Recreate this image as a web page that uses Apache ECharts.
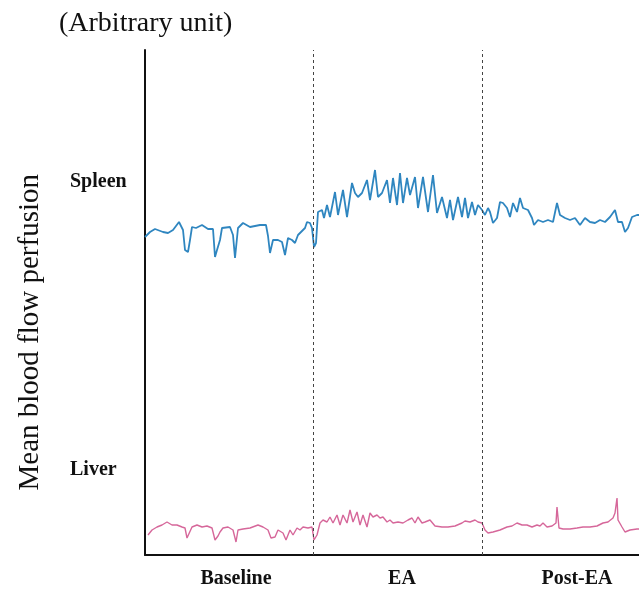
<!DOCTYPE html>
<html>
<head>
<meta charset="utf-8">
<script src="https://cdn.jsdelivr.net/npm/echarts@6/dist/echarts.min.js"></script>
<style>
  html, body { margin: 0; padding: 0; background: #fff; }
  #chart { width: 639px; height: 592px; }
</style>
</head>
<body>
<div id="chart"></div>
<script>
// time axis in arbitrary steps, perfusion in arbitrary units
const phaseNames = ['Baseline', 'EA', 'Post-EA'];
const phaseLabelPos = [91, 257, 432];
const phaseBounds = [168, 337];
const organNames = ['Spleen', 'Liver'];
const organLabelPos = [373, 85];

const spleenT = [0, 5, 10, 18, 23, 28, 34, 38, 40, 43, 45, 47, 51, 57, 63, 68, 70, 72, 75, 77, 85, 88, 90, 93, 98, 105, 110, 115, 121, 123, 125, 128, 133, 137, 140, 143, 147, 150, 153, 156, 160, 162, 165, 167, 169, 171, 173, 177, 179, 182, 185, 190, 193, 198, 202, 207, 210, 213, 217, 222, 225, 230, 233, 237, 242, 245, 248, 252, 255, 258, 262, 265, 270, 273, 278, 283, 288, 292, 297, 302, 305, 308, 313, 317, 320, 323, 327, 330, 333, 337, 340, 343, 345, 348, 352, 355, 358, 362, 365, 368, 372, 375, 378, 383, 387, 389, 393, 398, 403, 408, 412, 415, 420, 425, 430, 435, 440, 445, 450, 455, 460, 465, 470, 473, 477, 480, 483, 487, 492, 494];
const spleenV = [318, 323, 326, 323, 322, 325, 333, 325, 305, 303, 315, 328, 327, 330, 326, 326, 298, 305, 315, 327, 328, 320, 297, 327, 332, 328, 329, 330, 330, 319, 302, 315, 315, 313, 300, 317, 315, 312, 320, 323, 327, 333, 332, 327, 308, 312, 343, 345, 337, 350, 338, 363, 340, 365, 338, 372, 362, 358, 362, 375, 355, 385, 358, 362, 375, 352, 377, 350, 382, 352, 377, 360, 378, 347, 378, 343, 380, 342, 358, 337, 355, 335, 358, 338, 357, 337, 353, 340, 350, 345, 340, 347, 343, 332, 337, 353, 352, 347, 338, 352, 343, 357, 347, 345, 337, 330, 335, 333, 335, 333, 352, 340, 337, 335, 337, 330, 337, 333, 332, 335, 333, 338, 345, 333, 333, 323, 327, 338, 340, 340];

const liverT = [3, 7, 12, 17, 22, 27, 32, 37, 40, 42, 44, 47, 52, 57, 62, 67, 70, 73, 75, 78, 83, 88, 91, 93, 98, 105, 113, 118, 123, 126, 130, 133, 138, 141, 145, 148, 152, 155, 158, 163, 167, 169, 172, 175, 178, 182, 185, 188, 192, 195, 198, 202, 205, 208, 212, 215, 218, 222, 225, 228, 232, 235, 238, 242, 245, 248, 253, 258, 263, 267, 270, 273, 277, 280, 285, 290, 297, 303, 310, 317, 320, 325, 330, 333, 337, 340, 343, 348, 355, 362, 367, 372, 377, 382, 387, 392, 395, 398, 402, 407, 411, 412, 414, 418, 425, 432, 438, 445, 452, 458, 463, 468, 470, 472, 473, 477, 480, 485, 492, 494];
const liverV = [20, 25, 28, 30, 33, 30, 30, 28, 27, 17, 18, 28, 30, 28, 29, 27, 15, 19, 23, 27, 28, 25, 13, 25, 26, 27, 30, 28, 25, 17, 18, 25, 22, 15, 25, 20, 27, 25, 28, 27, 28, 15, 20, 32, 35, 33, 38, 32, 40, 30, 40, 32, 45, 33, 43, 30, 40, 28, 42, 38, 40, 37, 38, 33, 35, 32, 33, 32, 35, 37, 32, 38, 32, 33, 35, 29, 28, 28, 29, 32, 34, 33, 35, 33, 32, 25, 22, 23, 25, 28, 29, 32, 30, 30, 28, 30, 29, 32, 28, 29, 32, 48, 27, 26, 26, 27, 28, 28, 29, 32, 33, 37, 42, 57, 35, 28, 23, 25, 26, 26];

const zip = (t, v) => t.map((x, i) => [x, v[i]]);

const chart = echarts.init(document.getElementById('chart'));
chart.setOption({
  backgroundColor: '#fff',
  animation: false,
  title: {
    text: '(Arbitrary unit)',
    left: 54,
    top: 5,
    textStyle: { fontFamily: 'Liberation Serif', fontWeight: 'normal', fontSize: 28, color: '#111' }
  },
  graphic: [{
    type: 'text',
    left: 16,
    top: 174,
    rotation: Math.PI / 2,
    style: {
      text: 'Mean blood flow perfusion',
      font: '29px "Liberation Serif"',
      fill: '#111'
    }
  }],
  grid: { left: 145, right: 0, top: 50, bottom: 37 },
  xAxis: {
    type: 'value',
    min: 0,
    max: 494,
    splitLine: { show: false },
    axisLine: { show: true, lineStyle: { color: '#111', width: 2 } },
    axisTick: { show: false },
    axisLabel: {
      customValues: phaseLabelPos,
      margin: 14,
      fontFamily: 'Liberation Serif',
      fontWeight: 'bold',
      fontSize: 20,
      color: '#111',
      formatter: (v) => phaseNames[phaseLabelPos.indexOf(v)]
    }
  },
  yAxis: {
    type: 'value',
    min: 0,
    max: 505,
    splitLine: { show: false },
    axisLine: { show: true, lineStyle: { color: '#111', width: 2 } },
    axisTick: { show: false },
    axisLabel: {
      customValues: organLabelPos,
      align: 'left',
      margin: 75,
      fontFamily: 'Liberation Serif',
      fontWeight: 'bold',
      fontSize: 20,
      color: '#111',
      formatter: (v) => organNames[organLabelPos.indexOf(v)]
    }
  },
  series: [
    {
      name: 'Spleen',
      type: 'line',
      data: zip(spleenT, spleenV),
      showSymbol: false,
      lineStyle: { color: '#2f86c0', width: 1.8 },
      markLine: {
        silent: true,
        symbol: 'none',
        label: { show: false },
        lineStyle: { color: '#444', type: [3, 3], width: 1 },
        data: phaseBounds.map((x) => ({ xAxis: x }))
      }
    },
    {
      name: 'Liver',
      type: 'line',
      data: zip(liverT, liverV),
      showSymbol: false,
      lineStyle: { color: '#d6679a', width: 1.4 }
    }
  ]
});
</script>
</body>
</html>
